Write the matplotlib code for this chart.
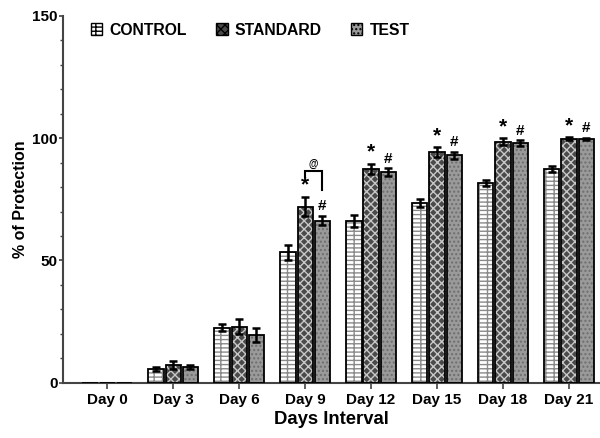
import numpy as np
import matplotlib
matplotlib.use("Agg")
import matplotlib.pyplot as plt
from matplotlib.patches import Patch
from matplotlib.ticker import MultipleLocator

plt.rcParams['font.family'] = ['Liberation Sans', 'DejaVu Sans']
plt.rcParams['font.weight'] = 'bold'

# data
days = ["Day 0", "Day 3", "Day 6", "Day 9", "Day 12", "Day 15", "Day 18", "Day 21"]
control = [0, 5.7, 22.5, 53.3, 66.2, 73.5, 81.6, 87.4]
control_err = [0, 0.8, 1.5, 3.0, 2.5, 1.5, 1.3, 1.2]
standard = [0, 7.4, 23.0, 72.0, 87.5, 94.3, 98.6, 99.8]
standard_err = [0, 1.7, 3.0, 4.0, 2.0, 2.0, 1.5, 0.5]
test = [0, 6.3, 19.6, 66.3, 86.2, 93.0, 98.0, 99.6]
test_err = [0, 0.8, 3.0, 2.0, 1.5, 1.5, 1.2, 0.5]
star_days = [3, 4, 5, 6, 7]   # '*' on standard, '#' on test

# (face, hatch, hatch colour)
styles = {
    "CONTROL": ("white", "----||", "#8a8a8a"),
    "STANDARD": ("#4a4a4a", "xxxx", "#c8c8c8"),
    "TEST": ("#9a9a9a", "....", "#6e6e6e"),
}

fig = plt.figure(figsize=(6, 4.38), dpi=100)
ax = fig.add_axes([0.105, 0.126, 0.895, 0.838])

x = np.arange(len(days))
w = 0.23
off = 0.26
series = [("CONTROL", control, control_err), ("STANDARD", standard, standard_err), ("TEST", test, test_err)]
for i, (name, vals, errs) in enumerate(series):
    face, hatch, hcol = styles[name]
    xs = x + (i - 1) * off
    ax.bar(xs, vals, w, color=face, edgecolor=hcol, hatch=hatch, linewidth=0, zorder=2)
    ax.bar(xs, vals, w, fill=False, edgecolor="black", linewidth=1.3, zorder=3)
    ax.errorbar(xs[1:], vals[1:], yerr=errs[1:], fmt="none", ecolor="black",
                elinewidth=1.8, capsize=3, capthick=1.8, zorder=4)

for d in star_days:
    ax.text(x[d], standard[d] + standard_err[d] + 0.8, "*", ha="center", va="bottom",
            fontsize=15, fontweight="bold")
    ax.text(x[d] + off, test[d] + test_err[d] + 1.0, "#", ha="center", va="bottom",
            fontsize=11, fontweight="bold")

# bracket on Day 9 between standard and test
d = 3
ax.plot([x[d], x[d], x[d] + off, x[d] + off], [84, 86.5, 86.5, 79], color="black", lw=1.5,
        solid_joinstyle="miter", zorder=4)
ax.text(x[d] + off / 2, 87.5, "@", ha="center", va="bottom", fontsize=7)

ax.set_xlim(-0.67, 7.47)
ax.set_ylim(0, 150)
ax.yaxis.set_major_locator(MultipleLocator(50))
ax.yaxis.set_minor_locator(MultipleLocator(10))
ax.set_xticks(x)
ax.set_xticklabels(days, fontsize=11, fontweight="bold")
ax.tick_params(axis="y", labelsize=11, width=1.2, length=3, color="#444444", pad=1)
ax.tick_params(axis="y", which="minor", length=2, width=1, color="#444444")
ax.tick_params(axis="x", length=4, width=1.2, color="#444444", pad=3)
for lab in ax.get_yticklabels():
    lab.set_fontweight("bold")
for s in ["top", "right"]:
    ax.spines[s].set_visible(False)
for s in ["left", "bottom"]:
    ax.spines[s].set_linewidth(1.5)
    ax.spines[s].set_color("#444444")

ax.set_xlabel("Days Interval", fontsize=13.3, fontweight="bold", labelpad=3)
ax.set_ylabel("% of Protection", fontsize=11.5, fontweight="bold", labelpad=3)

handles = []
for name in ["CONTROL", "STANDARD", "TEST"]:
    face, hatch, hcol = styles[name]
    handles.append(Patch(facecolor=face, edgecolor="black", hatch=hatch, linewidth=1))
leg = ax.legend(handles, list(styles.keys()), loc="upper left", bbox_to_anchor=(0.025, 1.02),
                ncol=3, frameon=False, fontsize=11.3, handlelength=0.75, handleheight=0.75,
                handletextpad=0.45, columnspacing=1.85)
for t in leg.get_texts():
    t.set_fontweight("bold")

fig.savefig("out.png", dpi=100)
